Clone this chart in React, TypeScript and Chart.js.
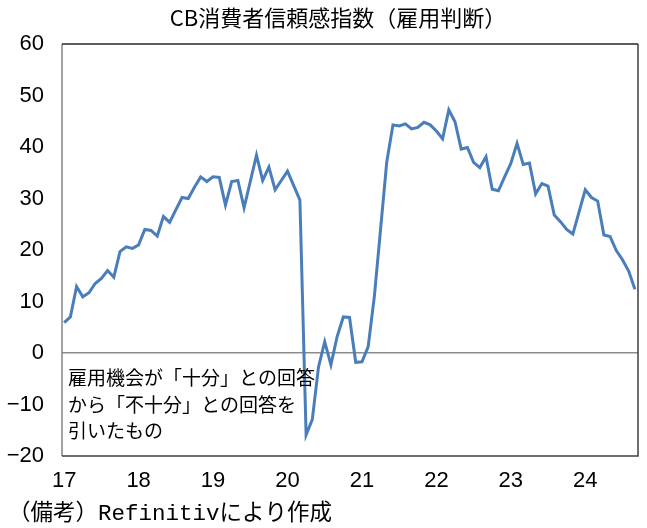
import React, { useEffect, useRef } from "react";
import { Chart, registerables } from "chart.js";

Chart.register(...registerables);

const titleText = "CB消費者信頼感指数（雇用判断）";
const noteLines = ["雇用機会が「十分」との回答", "から「不十分」との回答を", "引いたもの"];
const footnoteText = "（備考）Refinitivにより作成";

// year tick labels (January of each year)
const yearLabels = ["17", "18", "19", "20", "21", "22", "23", "24"];

// monthly values Jan 2017 .. Sep 2024
const values2017 = [5.9, 7.0, 12.9, 10.9, 11.7, 13.5, 14.5, 16.0, 14.7, 19.7, 20.6, 20.3];
const values2018 = [21.0, 24.0, 23.8, 22.7, 26.5, 25.4, 27.8, 30.2, 30.0, 32.2, 34.2, 33.3];
const values2019 = [34.2, 34.1, 28.7, 33.3, 33.5, 28.2, 33.3, 38.4, 33.5, 36.1, 31.7, 33.5];
const values2020 = [35.3, 32.5, 29.7, -15.9, -12.9, -2.7, 2.2, -2.3, 3.2, 7.0, 6.9, -1.8];
const values2021 = [-1.7, 1.2, 11.0, 24.0, 37.1, 44.3, 44.1, 44.5, 43.5, 43.8, 44.8, 44.3];
const values2022 = [43.1, 41.6, 47.2, 44.9, 39.6, 39.9, 37.0, 36.0, 38.1, 31.8, 31.5, 34.2];
const values2023 = [36.8, 40.7, 36.6, 36.9, 30.9, 32.9, 32.4, 26.8, 25.5, 24.0, 23.1, 27.4];
const values2024 = [31.7, 30.2, 29.5, 22.9, 22.6, 19.9, 18.1, 15.9, 12.4];

const seriesValues = [
  ...values2017,
  ...values2018,
  ...values2019,
  ...values2020,
  ...values2021,
  ...values2022,
  ...values2023,
  ...values2024,
];

const jpFont = "'Noto Sans CJK JP', 'Noto Sans', sans-serif";
const tickFont = "'Liberation Sans', sans-serif";

const textPlugin = {
  id: "texts",
  beforeDatasetsDraw(chart: any) {
    const { ctx, chartArea } = chart;
    const { left, right, top, bottom } = chartArea;
    ctx.save();
    ctx.lineWidth = 1.5;
    ctx.strokeStyle = "#858585";
    ctx.beginPath();
    ctx.moveTo(left, top);
    ctx.lineTo(left, bottom);
    ctx.stroke();
    ctx.strokeStyle = "#404040";
    ctx.beginPath();
    ctx.moveTo(left, bottom);
    ctx.lineTo(right, bottom);
    ctx.lineTo(right, top);
    ctx.stroke();
    ctx.strokeStyle = "#262626";
    ctx.beginPath();
    ctx.moveTo(left, top);
    ctx.lineTo(right, top);
    ctx.stroke();
    ctx.restore();
  },
  afterDraw(chart: any) {
    const { ctx, chartArea, scales } = chart;
    ctx.save();
    ctx.fillStyle = "#000";
    ctx.font = `22px ${jpFont}`;
    ctx.textAlign = "center";
    ctx.textBaseline = "middle";
    ctx.fillText(titleText, 338, 18);
    ctx.font = `19px ${jpFont}`;
    ctx.textAlign = "left";
    const y0 = scales.y.getPixelForValue(0);
    noteLines.forEach((line, i) => {
      ctx.fillText(line, chartArea.left + 6, y0 + 25 + i * 26.5);
    });
    ctx.font = `22.5px 'Liberation Mono', ${jpFont}`;
    ctx.fillText(footnoteText, 8, 514);
    ctx.restore();
  },
};

export default function App() {
  const canvasRef = useRef<HTMLCanvasElement | null>(null);

  useEffect(() => {
    document.body.style.margin = "0";
    const canvas = canvasRef.current;
    if (!canvas) return;
    const chart = new Chart(canvas, {
      type: "line",
      data: {
        datasets: [
          {
            data: seriesValues.map((v, i) => ({ x: i, y: v })),
            borderColor: "#4a7ebb",
            borderWidth: 3,
            pointRadius: 0,
            tension: 0,
            fill: false,
          },
        ],
      },
      options: {
        animation: false,
        responsive: false,
        maintainAspectRatio: false,
        layout: { padding: { top: 44, right: 9, left: 0, bottom: 0 } },
        plugins: {
          legend: { display: false },
          title: { display: false },
          tooltip: { enabled: false },
        },
        scales: {
          x: {
            type: "linear",
            min: -0.35,
            max: 92.5,
            afterFit(scale: any) {
              scale.height = 72;
            },
            afterBuildTicks(scale: any) {
              scale.ticks = yearLabels.map((_, i) => ({ value: i * 12 }));
            },
            grid: { display: false, drawTicks: false },
            border: { display: false },
            ticks: {
              autoSkip: false,
              maxRotation: 0,
              padding: 12,
              color: "#000",
              font: { family: tickFont, size: 22 },
              callback: (v: any) => yearLabels[Math.round(Number(v) / 12)] ?? "",
            },
          },
          y: {
            min: -20,
            max: 60,
            afterFit(scale: any) {
              scale.width = 62;
            },
            grid: {
              drawTicks: false,
              color: (c: any) => (c.tick && c.tick.value === 0 ? "#8c8c8c" : "rgba(0,0,0,0)"),
              lineWidth: (c: any) => (c.tick && c.tick.value === 0 ? 1.5 : 0),
            },
            border: { display: false },
            ticks: {
              stepSize: 10,
              padding: 18,
              color: "#000",
              font: { family: tickFont, size: 22 },
              callback: (v: any) => String(v).replace("-", "\u2212"),
            },
          },
        },
      },
      plugins: [textPlugin],
    });
    return () => chart.destroy();
  }, []);

  return (
    <div style={{ width: 647, height: 528 }}>
      <canvas ref={canvasRef} width={647} height={528} style={{ display: "block", width: 647, height: 528 }} />
    </div>
  );
}
